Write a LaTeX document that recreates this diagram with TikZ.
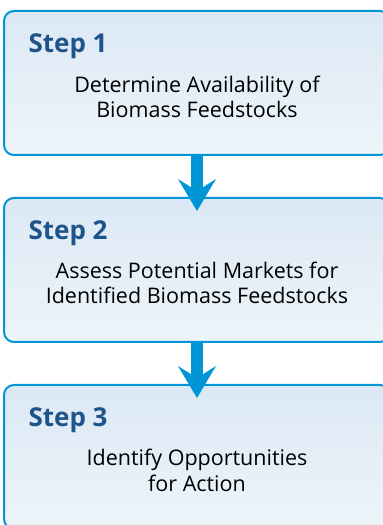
\documentclass[tikz,border=0pt]{standalone}
\usepackage{fontspec}
\setmainfont{Open Sans}
\usepackage{xcolor}
\usepackage{tikz}
\usetikzlibrary{positioning}
\usetikzlibrary{arrows.meta}
\definecolor{stepBorder}{rgb}{0,0.59,0.84}
\definecolor{stepTitle}{rgb}{0.12,0.33,0.54}
\definecolor{stepTop}{rgb}{0.86,0.91,0.96}
\definecolor{stepBottom}{rgb}{0.93,0.96,0.98}

\begin{document}
\begin{tikzpicture}[x=1pt,y=1pt,
    stepbox/.style={draw=stepBorder,line width=2pt,rounded corners=10pt,top color=stepTop,bottom color=stepBottom,minimum width=386pt,minimum height=144pt,inner sep=0pt},
    steptitle/.style={anchor=base west,text=stepTitle,font=\bfseries\fontsize{26}{30}\selectfont},
    steptext/.style={anchor=base,align=center,font=\fontsize{21.5}{25.5}\selectfont},
    steparrow/.style={stepBorder,line width=12pt,-{Stealth[length=32pt,width=38pt,inset=12pt,line width=0pt]}}]
    \useasboundingbox (0,0) rectangle (383,525);

    % draw step boxes
    \node[stepbox] (s1) at (197,442) {};
    \node[stepbox,below=41pt of s1] (s2) {};
    \node[stepbox,below=41pt of s2] (s3) {};

    % draw arrows
    \draw[steparrow] (s1.south) -- ([yshift=-14pt]s2.north);
    \draw[steparrow] (s2.south) -- ([yshift=-14pt]s3.north);

    % draw titles
    \node[steptitle] (s1title) at ([xshift=22pt,yshift=-43pt]s1.north west) {Step 1};
    \node[steptitle] (s2title) at ([xshift=22pt,yshift=-43pt]s2.north west) {Step 2};
    \node[steptitle] (s3title) at ([xshift=22pt,yshift=-43pt]s3.north west) {Step 3};

    % draw texts
    \node[steptext] (s1text) at ([yshift=-108pt]s1.north) {Determine Availability of\\Biomass Feedstocks};
    \node[steptext] (s2text) at ([yshift=-107pt]s2.north) {Assess Potential Markets for\\Identified Biomass Feedstocks};
    \node[steptext] (s3text) at ([yshift=-107pt]s3.north) {Identify Opportunities\\for Action};
\end{tikzpicture}
\end{document}
